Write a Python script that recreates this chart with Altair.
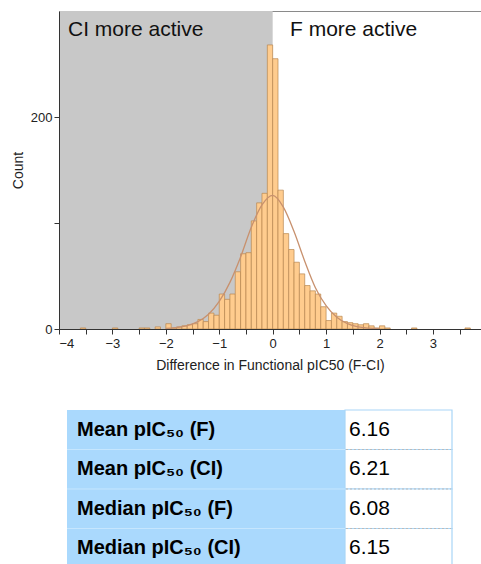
import altair as alt
import pandas as pd

# ---- data ----
bin_start = [-3.6, -3.0, -2.5, -2.4, -2.2, -2.0, -1.9, -1.8, -1.7, -1.6, -1.5, -1.4, -1.3,
             -1.2, -1.1, -1.0, -0.9, -0.8, -0.7, -0.6, -0.5, -0.4, -0.3, -0.2, -0.1,
             0.0, 0.1, 0.2, 0.3, 0.4, 0.5, 0.6, 0.7, 0.8, 0.9, 1.0, 1.1, 1.2, 1.3,
             1.4, 1.5, 1.6, 1.7, 1.8, 1.9, 2.0, 2.1, 2.6, 3.6]
bin_count = [1, 1, 1, 1, 2, 5, 1, 2, 3, 4, 5, 9, 7,
             15, 13, 33, 28, 33, 54, 71, 72, 102, 119, 128, 268,
             255, 131, 90, 75, 63, 52, 41, 36, 33, 21, 8, 15, 12, 7,
             6, 5, 4, 5, 3, 1, 3, 1, 1, 1]

curve_x = [-2.0, -1.8, -1.6, -1.4, -1.2, -1.0, -0.8, -0.6, -0.4, -0.2, 0.0,
           0.2, 0.4, 0.6, 0.8, 1.0, 1.2, 1.4, 1.6, 1.8, 2.0]
curve_y = [0.5, 1.3, 3.2, 7, 14, 26, 44, 68, 96, 117, 126,
           115, 92, 64, 39, 22, 11, 5, 2, 0.8, 0.3]

region_start = [-4.0]
region_end = [0.0]
region_label = ["CI more active", "F more active"]

table_labels = ["Mean pIC₅₀ (F)", "Mean pIC₅₀ (CI)", "Median pIC₅₀ (F)", "Median pIC₅₀ (CI)"]
table_values = ["6.16", "6.21", "6.08", "6.15"]

W, H = 422, 318
FONT = "Liberation Sans"

hist_df = pd.DataFrame({"start": bin_start, "count": bin_count})
curve_df = pd.DataFrame({"x": curve_x, "y": curve_y})
region_df = pd.DataFrame({"s": region_start, "e": region_end})
label_df = pd.DataFrame({"label": region_label, "idx": [0, 1]})
table_df = pd.DataFrame({"row": list(range(len(table_labels))),
                         "label": table_labels, "value": table_values})

xscale = alt.Scale(domain=[-4, 3.9], nice=False, zero=False)
yscale = alt.Scale(domain=[0, 300], nice=False)

xaxis = alt.Axis(values=[v / 2 for v in range(-8, 8)], format=".0f",
                 labelExpr="datum.value % 1 == 0 ? datum.label : ''",
                 title="Difference in Functional pIC50 (F-CI)",
                 titlePadding=8, labelPadding=3, zindex=1)
yaxis = alt.Axis(values=[0, 100, 200],
                 labelExpr="datum.value == 100 ? '' : datum.label",
                 title="Count", titlePadding=5, labelPadding=2, zindex=1)

shade = alt.Chart(region_df).mark_rect(color="#C8C8C8").encode(
    x=alt.X("s:Q", scale=xscale, axis=xaxis),
    x2="e:Q",
    y=alt.value(0),
    y2=alt.value(H),
)

bars = alt.Chart(hist_df).transform_calculate(
    end="datum.start + 0.1"
).mark_rect(fill="#FFCC8E", stroke="#B88650", strokeWidth=0.7).encode(
    x=alt.X("start:Q", scale=xscale, axis=xaxis),
    x2="end:Q",
    y=alt.Y("count:Q", scale=yscale, axis=yaxis),
    y2=alt.datum(0),
)

curve = alt.Chart(curve_df).mark_line(color="#C8916E", strokeWidth=1.3,
                                      interpolate="monotone").encode(
    x=alt.X("x:Q", scale=xscale, axis=xaxis),
    y=alt.Y("y:Q", scale=yscale, axis=yaxis),
)

lab_left = alt.Chart(label_df).transform_filter("datum.idx == 0").mark_text(
    align="left", baseline="alphabetic", fontSize=21, font=FONT, color="#111"
).encode(x=alt.value(9), y=alt.value(25), text="label:N")

lab_right = alt.Chart(label_df).transform_filter("datum.idx == 1").mark_text(
    align="left", baseline="alphabetic", fontSize=21, font=FONT, color="#111"
).encode(x=alt.value(231), y=alt.value(25), text="label:N")

main = alt.layer(shade, bars, curve, lab_left, lab_right)

# ---- table ----
tscale = alt.Scale(domain=[0, 4], range=[399, 557], nice=False, zero=False)
tbase = alt.Chart(table_df).transform_calculate(
    row_end="datum.row + 1", mid="datum.row + 0.5"
)

left_cells = tbase.mark_rect(fill="#AAD9FD").encode(
    x=alt.value(8), x2=alt.value(286),
    y=alt.Y("row:Q", scale=tscale, axis=None), y2="row_end:Q",
)
right_cells = tbase.mark_rect(fill="white", stroke="#A9D6F7", strokeWidth=1.2).encode(
    x=alt.value(286), x2=alt.value(393),
    y=alt.Y("row:Q", scale=tscale, axis=None), y2="row_end:Q",
)
sep_right = tbase.transform_filter("datum.row > 0").mark_rule(
    color="#BBBBBB", strokeDash=[2, 2], strokeWidth=1
).encode(
    x=alt.value(287), x2=alt.value(392),
    y=alt.Y("row:Q", scale=tscale, axis=None),
)
sep_left = tbase.transform_filter("datum.row > 0").mark_rule(
    color="#C6E6FE", strokeWidth=1
).encode(
    x=alt.value(8), x2=alt.value(286),
    y=alt.Y("row:Q", scale=tscale, axis=None),
)
label_text = tbase.mark_text(
    align="left", baseline="middle", fontSize=20, fontWeight="bold", font=FONT, color="black"
).encode(
    x=alt.value(18), y=alt.Y("mid:Q", scale=tscale, axis=None), text="label:N"
)
value_text = tbase.mark_text(
    align="left", baseline="middle", fontSize=21, font=FONT, color="black"
).encode(
    x=alt.value(290), y=alt.Y("mid:Q", scale=tscale, axis=None), text="value:N"
)

table = alt.layer(left_cells, right_cells, sep_left, sep_right, label_text, value_text)

chart = alt.layer(main, table).resolve_scale(y="independent").properties(
    width=W, height=H,
    autosize=alt.AutoSizeParams(type="none"),
    padding={"left": 59, "top": 11, "right": 0, "bottom": 564 - 11 - H},
).configure(font=FONT).configure_view(
    stroke="#8A8A8A", strokeWidth=1
).configure_axis(
    labelFontSize=13, titleFontSize=14, titleFontWeight="normal",
    labelColor="#222", titleColor="#222", domainColor="#333", tickColor="#333",
    tickSize=5, grid=False, labelFont=FONT, titleFont=FONT,
)

chart.save("out.html", embed_options={"renderer": "svg", "actions": False})
